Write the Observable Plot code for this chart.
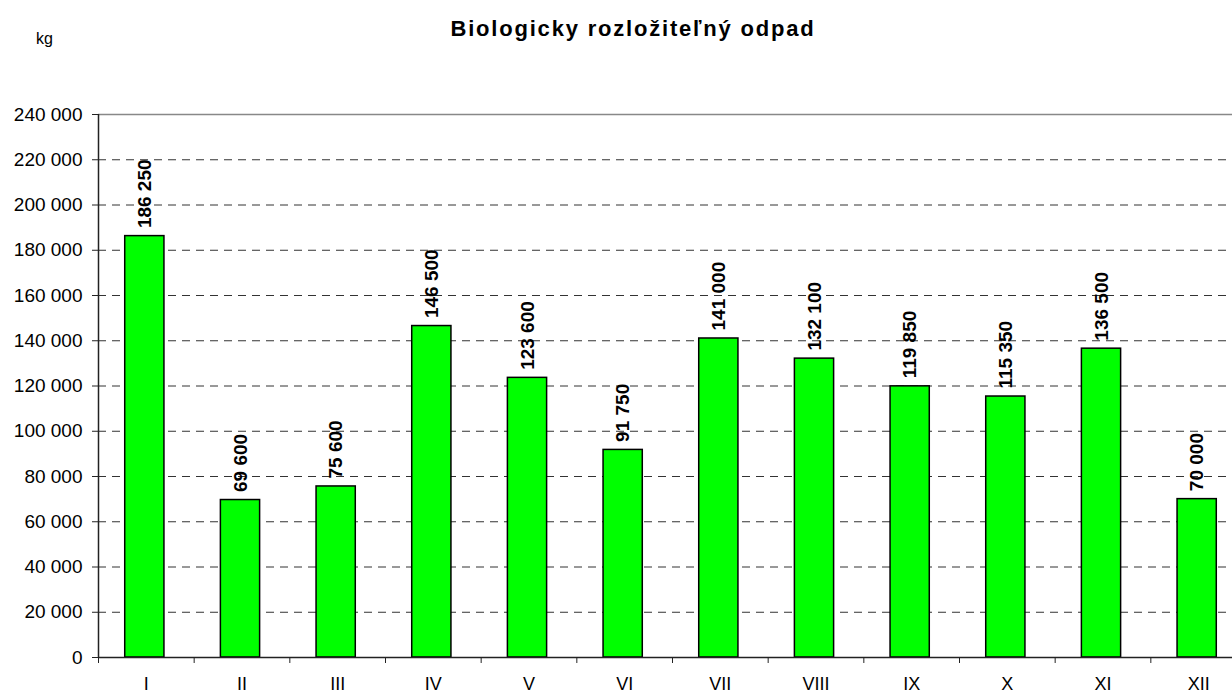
<!DOCTYPE html>
<html>
<head>
<meta charset="utf-8">
<script src="https://cdn.jsdelivr.net/npm/d3@7"></script>
<script src="https://cdn.jsdelivr.net/npm/@observablehq/plot@0.6"></script>
<style>
  html, body { margin: 0; padding: 0; background: #fff; overflow: hidden; }
  body { width: 1232px; height: 693px; font-family: "Liberation Sans", Arial, sans-serif; }
  #head { position: relative; height: 80px; }
  #title { position: absolute; left: 0; width: 1266px; top: 16px; text-align: center; font-weight: bold; font-size: 22px; letter-spacing: 1.8px; color: #000; }
  #unit { position: absolute; left: 36px; top: 30px; font-size: 16px; color: #000; }
  #chart svg { overflow: visible; }
</style>
</head>
<body>
<div id="head">
  <div id="unit">kg</div>
  <div id="title">Biologicky rozložiteľný odpad</div>
</div>
<div id="chart"></div>
<script>
const months = ["I", "II", "III", "IV", "V", "VI", "VII", "VIII", "IX", "X", "XI", "XII"];
const values = [186250, 69600, 75600, 146500, 123600, 91750, 141000, 132100, 119850, 115350, 136500, 70000];
const yTicks = [0, 20000, 40000, 60000, 80000, 100000, 120000, 140000, 160000, 180000, 200000, 220000, 240000];
const gridTicks = yTicks.filter(v => v > 0 && v < 240000);

const data = months.map((m, i) => ({month: m, value: values[i]}));
const fmt = v => d3.format(",")(v).replace(/,/g, " ");

const width = 1232, marginLeft = 98, marginRight = -14;
const step = (width - marginRight - marginLeft) / months.length;

const chart = Plot.plot({
  width,
  height: 613,
  marginTop: 34,
  marginBottom: 36,
  marginLeft,
  marginRight,
  style: {fontFamily: "'Liberation Sans', Arial, sans-serif", color: "#000", background: "#fff"},
  x: {domain: months, paddingInner: 0.59, paddingOuter: 0.295, round: false},
  y: {domain: [0, 240000]},
  marks: [
    Plot.ruleY(gridTicks, {stroke: "#333", strokeWidth: 1, strokeDasharray: "8,6"}),
    Plot.ruleY([240000], {stroke: "#888", strokeWidth: 1.5}),
    Plot.barY(data, {x: "month", y: "value", dx: -1.5, fill: "#00ff00", stroke: "#000", strokeWidth: 1.5}),
    Plot.ruleY([0], {stroke: "#222", strokeWidth: 1.5}),
    Plot.ruleX([months[0]], {x: d => d, dx: -step / 2, y1: 0, y2: 240000, stroke: "#222", strokeWidth: 1.5}),
    Plot.ruleX(months, {x: d => d, dx: -step / 2, y1: -2650, y2: 0, stroke: "#222", strokeWidth: 1}),
    Plot.text(data, {x: "month", y: "value", text: d => fmt(d.value), rotate: -90, textAnchor: "start", dx: -1.5, dy: -8, fontWeight: "bold", fontSize: 19, fill: "#000"}),
    Plot.axisY({ticks: yTicks, tickFormat: fmt, tickSize: 6, tickPadding: 10, fontSize: 19, stroke: "#222", label: null}),
    Plot.axisX({tickSize: 0, tickPadding: 20, fontSize: 18, label: null})
  ]
});
document.getElementById("chart").appendChild(chart);
</script>
</body>
</html>
